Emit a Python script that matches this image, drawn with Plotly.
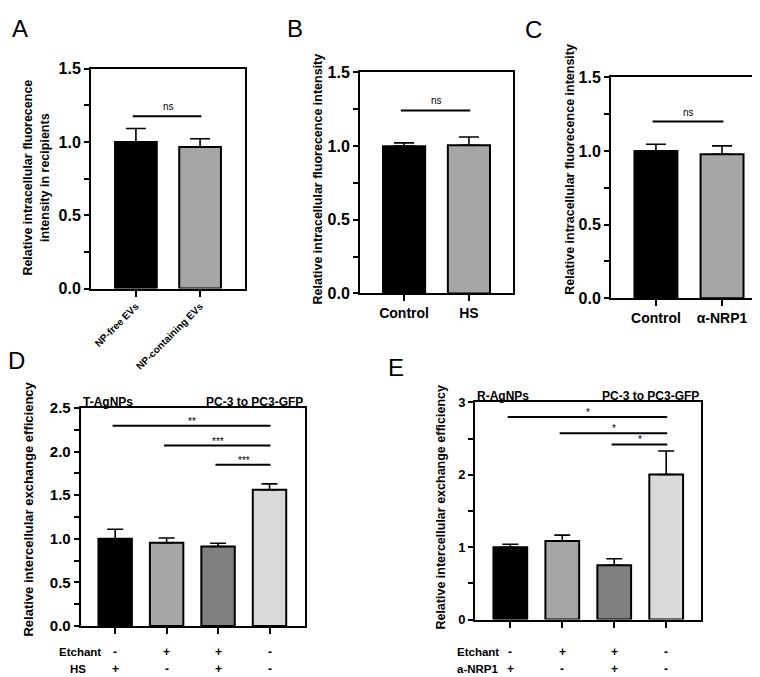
import plotly.graph_objects as go

W, H = 760, 677

# ---------------- data ----------------
A_cats = ["NP-free EVs", "NP-containing EVs"]
A_vals = [1.0, 0.965]
A_err = [0.092, 0.057]

B_cats = ["Control", "HS"]
B_vals = [1.0, 1.006]
B_err = [0.022, 0.056]

C_cats = ["Control", "α-NRP1"]
C_vals = [1.0, 0.978]
C_err = [0.046, 0.057]

D_cats = ["g1", "g2", "g3", "g4"]
D_vals = [1.0, 0.956, 0.912, 1.5625]
D_err = [0.11, 0.053, 0.037, 0.068]
D_etchant = ["-", "+", "+", "-"]
D_hs = ["+", "-", "+", "-"]

E_cats = ["g1", "g2", "g3", "g4"]
E_vals = [1.0, 1.086, 0.75, 2.005]
E_err = [0.04, 0.081, 0.09, 0.325]
E_etchant = ["-", "+", "+", "-"]
E_nrp1 = ["+", "-", "+", "-"]

colors_2 = ["#000000", "#a6a6a6"]
colors_4 = ["#000000", "#a6a6a6", "#808080", "#d9d9d9"]

# significance: (from, to, y, label)
A_sig = [(0, 1, 1.175, "ns")]
B_sig = [(0, 1, 1.242, "ns")]
C_sig = [(0, 1, 1.20, "ns")]
D_sig = [(0, 3, 2.296, "**"), (1, 3, 2.07, "***"), (2, 3, 1.85, "***")]
E_sig = [(0, 3, 2.80, "*"), (1, 3, 2.575, "*"), (2, 3, 2.42, "*")]

FONT = "Arial, Liberation Sans, Helvetica, sans-serif"

# panel pixel boxes: (x0, x1, ytop, ybottom)
panels = {
    "A": dict(box=(83, 237, 53, 279), xr=[-0.70, 1.70], yr=[0, 1.5], dt=0.5, mdt=0.25, fs=16),
    "B": dict(box=(352, 505, 57, 284), xr=[-0.68, 1.68], yr=[0, 1.5], dt=0.5, mdt=0.25, fs=16),
    "C": dict(box=(603, 757, 62, 289), xr=[-0.68, 1.65], yr=[0, 1.5], dt=0.5, mdt=0.25, fs=16),
    "D": dict(box=(72.7, 297, 401.7, 625.7), xr=[-0.67, 3.69], yr=[0, 2.5], dt=0.5, mdt=0.25, fs=15),
    "E": dict(box=(467, 693, 396, 619), xr=[-0.68, 3.67], yr=[0, 3], dt=1, mdt=0.5, fs=13),
}

def px(x):
    return x / W

def py(y):
    return 1 - y / H

fig = go.Figure()
layout = dict(width=W, height=H, margin=dict(l=0, r=0, t=0, b=0),
              paper_bgcolor="white", plot_bgcolor="white", showlegend=False,
              font=dict(family=FONT, color="black"))
shapes = []
annotations = []

series = {
    "A": (A_cats, A_vals, A_err, colors_2, A_sig),
    "B": (B_cats, B_vals, B_err, colors_2, B_sig),
    "C": (C_cats, C_vals, C_err, colors_2, C_sig),
    "D": (D_cats, D_vals, D_err, colors_4, D_sig),
    "E": (E_cats, E_vals, E_err, colors_4, E_sig),
}

for i, key in enumerate(["A", "B", "C", "D", "E"]):
    n = i + 1
    xa = "x" if n == 1 else f"x{n}"
    ya = "y" if n == 1 else f"y{n}"
    p = panels[key]
    x0, x1, yt, yb = p["box"]
    cats, vals, errs, cols, sigs = series[key]
    idx = list(range(len(cats)))
    capw = 10 if key in "ABC" else 8
    fig.add_trace(go.Bar(
        x=idx, y=vals, width=0.65, xaxis=xa, yaxis=ya,
        marker=dict(color=cols, line=dict(color="black", width=2)),
        error_y=dict(type="data", symmetric=False, array=errs,
                     arrayminus=[0] * len(errs), color="black",
                     thickness=1.6, width=capw),
        hoverinfo="skip",
    ))
    if key == "A":
        xt = dict(tickvals=idx, ticktext=cats, tickangle=-45,
                  tickfont=dict(size=10, family=FONT, weight="bold", color="black"))
    elif key in "BC":
        xt = dict(tickvals=idx, ticktext=cats, tickangle=0,
                  tickfont=dict(size=14, family=FONT, weight="bold", color="black"))
    else:
        xt = dict(tickvals=idx, ticktext=["" for _ in cats])
    layout["xaxis" if n == 1 else f"xaxis{n}"] = dict(
        domain=[px(x0), px(x1)], range=p["xr"], anchor=ya,
        showline=True, linecolor="black", linewidth=2, mirror=True,
        ticks="outside", ticklen=6, tickwidth=2, tickcolor="black",
        showgrid=False, zeroline=False, fixedrange=True, **xt)
    layout["yaxis" if n == 1 else f"yaxis{n}"] = dict(
        domain=[py(yb), py(yt)], range=p["yr"], anchor=xa,
        showline=True, linecolor="black", linewidth=2, mirror=True,
        ticks="outside", ticklen=5, tickwidth=2, tickcolor="black",
        dtick=p["dt"], tick0=0, tickformat=(".1f" if key != "E" else "d"),
        ticklabelstandoff=0,
        tickfont=dict(size=p["fs"], family=FONT, color="black", weight="bold"),
        minor=dict(ticks="outside", ticklen=5, tickwidth=2, tickcolor="black", dtick=p["mdt"]),
        showgrid=False, zeroline=False, fixedrange=True)
    # significance brackets
    for (a, b, yv, lab) in sigs:
        shapes.append(dict(type="line", xref=xa, yref=ya, x0=a - 0.05, x1=b + 0.02,
                           y0=yv, y1=yv, line=dict(color="black", width=2)))
        annotations.append(dict(xref=xa, yref=ya, x=(a + b) / 2, y=yv, text=lab,
                                showarrow=False, yanchor="bottom",
                                yshift=(2 if lab == "ns" else -3),
                                font=dict(size=10, family=FONT, color="black")))

# y-axis titles
titles = [
    ("Relative intracellular fluorecence<br>intensity in recipients", 28, 165, 12.5),
    ("Relative intracellular fluorecence intensity", 310, 167, 12.5),
    ("Relative intracellular fluorecence intensity", 562, 157, 12.5),
    ("Relative intercellular exchange efficiency", 21, 506, 13),
    ("Relative intercellular exchange efficiency", 433, 504, 12.5),
]
for t, x, y, s in titles:
    annotations.append(dict(xref="paper", yref="paper", x=px(x), y=py(y), text=t,
                            textangle=-90, showarrow=False, xanchor="center", yanchor="middle",
                            font=dict(size=s, family=FONT, color="black", weight="bold")))

# panel letters
for lab, x, y in [("A", 12, 12), ("B", 287, 12), ("C", 525, 13), ("D", 8, 353), ("E", 388, 360)]:
    annotations.append(dict(xref="paper", yref="paper", x=px(x), y=py(y), text=lab,
                            showarrow=False, xanchor="center", yanchor="middle",
                            font=dict(size=24, family=FONT, color="black")))

# top labels for D and E
for txt, x, y, anc in [("T-AgNPs", 73, 396, "left"), ("PC-3 to PC3-GFP", 297, 396, "right"),
                       ("R-AgNPs", 467, 389, "left"), ("PC-3 to PC3-GFP", 693, 389, "right")]:
    annotations.append(dict(xref="paper", yref="paper", x=px(x), y=py(y), text=txt,
                            showarrow=False, xanchor=anc, yanchor="middle",
                            font=dict(size=12, family=FONT, color="black", weight="bold")))

# condition rows
rows = [
    ("x4", 72, "Etchant", D_etchant, 652, "center"),
    ("x4", 70, "HS", D_hs, 670, "center"),
    ("x5", 448, "Etchant", E_etchant, 652, "left"),
    ("x5", 448, "a-NRP1", E_nrp1, 670, "left"),
]
for xa, lx, lab, signs, y, anc in rows:
    annotations.append(dict(xref="paper", yref="paper", x=px(lx), y=py(y), text=lab,
                            showarrow=False, xanchor=anc, yanchor="middle", borderpad=0,
                            font=dict(size=11.5, family=FONT, color="black", weight="bold")))
    for j, s in enumerate(signs):
        annotations.append(dict(xref=xa, yref="paper", x=j, y=py(y), text=s,
                                showarrow=False, xanchor="center", yanchor="middle", borderpad=0,
                                font=dict(size=12, family=FONT, color="black", weight="bold")))

layout["shapes"] = shapes
layout["annotations"] = annotations
fig.update_layout(**layout)
fig.write_html("out.html")
